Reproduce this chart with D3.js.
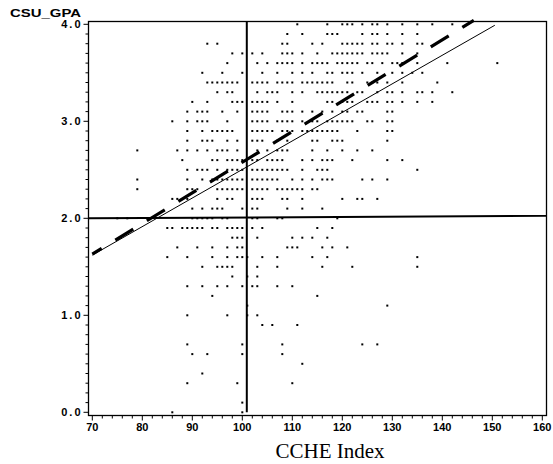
<!DOCTYPE html>
<html>
<head>
<meta charset="utf-8">
<script src="https://cdn.jsdelivr.net/npm/d3@7"></script>
<style>
  body { margin: 0; background: #fff; }
  svg { display: block; }
  .tick-label { font-family: "Liberation Sans", Arial, sans-serif; font-weight: bold; font-size: 11px; }
</style>
</head>
<body>
<svg id="chart" width="553" height="464"></svg>
<script>

// GPA levels (one row of dots per level) and the CCHE index values found on each row
const gpaLevels = [4.0, 3.9, 3.8, 3.7, 3.6, 3.5, 3.4, 3.3, 3.2, 3.1, 3.0, 2.9, 2.8, 2.7, 2.6, 2.5, 2.4, 2.3, 2.2, 2.1,
                   2.0, 1.9, 1.8, 1.7, 1.6, 1.5, 1.4, 1.3, 1.2, 1.1, 1.0, 0.9, 0.7, 0.6, 0.5, 0.4, 0.3, 0.1, 0.0];
const ccheByLevel = [
    [111, 117, 120, 121, 122, 124, 126, 127, 129, 132, 135, 138, 142],
    [109, 112, 117, 118, 119, 124, 126, 127, 129, 132, 135],
    [93, 95, 108, 109, 114, 116, 120, 121, 122, 123, 124, 126, 127, 129, 130, 132, 135, 136],
    [98, 100, 102, 104, 108, 109, 110, 112, 115, 118, 119, 120, 121, 122, 123, 124, 126, 127, 128, 129, 132, 135],
    [97, 103, 105, 107, 108, 109, 110, 112, 114, 115, 116, 117, 119, 120, 121, 122, 123, 125, 126, 128, 130, 131, 132, 135, 141, 151],
    [92, 96, 100, 104, 107, 110, 112, 114, 117, 118, 120, 121, 122, 124, 127, 130, 132, 134, 136],
    [93, 94, 95, 96, 97, 98, 99, 102, 103, 104, 105, 107, 108, 109, 110, 112, 113, 114, 115, 116, 117, 118, 121, 122, 125, 126, 127, 129, 132, 139],
    [95, 97, 98, 103, 105, 106, 107, 110, 112, 115, 116, 117, 118, 119, 120, 121, 123, 124, 127, 129, 130, 132, 135, 136, 138, 142],
    [90, 93, 98, 99, 100, 102, 103, 104, 105, 107, 110, 117, 118, 120, 121, 122, 125, 126, 127, 129, 130, 132, 135, 138],
    [89, 91, 92, 93, 96, 99, 102, 103, 104, 105, 108, 109, 110, 112, 114, 116, 118, 120, 121, 123, 124, 129, 130],
    [86, 89, 91, 92, 93, 97, 102, 103, 104, 105, 107, 108, 109, 110, 112, 114, 115, 117, 118, 119, 120, 121, 122, 125, 126, 129, 130],
    [89, 92, 94, 95, 96, 97, 98, 102, 103, 104, 105, 106, 108, 109, 110, 112, 113, 114, 115, 116, 117, 118, 119, 123, 129, 130],
    [89, 92, 93, 94, 97, 99, 102, 103, 104, 107, 109, 114, 115, 118, 119, 120, 129],
    [79, 87, 89, 91, 93, 95, 96, 97, 99, 103, 105, 107, 108, 109, 114, 117, 120, 123, 126],
    [88, 94, 95, 97, 98, 99, 100, 102, 103, 105, 106, 107, 108, 112, 114, 116, 117, 118, 122, 129, 132],
    [89, 91, 92, 93, 95, 97, 98, 99, 100, 102, 103, 104, 105, 106, 107, 108, 109, 112, 115, 116, 117, 135],
    [79, 89, 92, 94, 95, 96, 97, 98, 99, 100, 102, 103, 104, 105, 106, 107, 110, 112, 114, 116, 117, 118, 124, 126, 129],
    [79, 89, 90, 91, 95, 96, 97, 98, 99, 100, 102, 103, 104, 105, 107, 108, 109, 110, 111, 112, 114, 115],
    [86, 87, 89, 95, 97, 98, 102, 103, 104, 108, 109, 112, 120, 123, 124, 127],
    [90, 92, 94, 95, 96, 100, 102, 103, 109, 112, 116],
    [75, 77, 90, 91, 92, 93, 94, 96, 97, 102, 103, 107, 108, 119],
    [85, 86, 88, 89, 90, 91, 92, 94, 95, 97, 98, 99, 100, 102, 104, 115, 118],
    [98, 99, 100, 103, 110, 112, 114, 117],
    [87, 91, 94, 97, 99, 100, 109, 110, 111, 116, 118, 121],
    [85, 89, 94, 97, 99, 100, 101, 104, 107, 114, 117, 135],
    [92, 95, 96, 97, 98, 103, 107, 116, 122, 135],
    [98, 101, 103],
    [89, 92, 95, 97, 100, 102, 103, 107, 110],
    [94, 115],
    [101, 129],
    [89, 97, 101, 103],
    [104, 106, 111],
    [89, 100, 108, 124, 127],
    [90, 93, 100, 108],
    [112],
    [92],
    [89, 99, 110],
    [100],
    [86, 100]
];

// axis ticks
const xTicks = [70, 80, 90, 100, 110, 120, 130, 140, 150, 160];
const yTicks = [0, 1, 2, 3, 4];

// reference lines: mean CCHE (vertical), GPA 2.0 (horizontal)
const meanCche = 100.9;
const refGpa = [2.0, 2.025];   // left end, right end
// fitted lines: [x0, y0, x1, y1]
const fitSolid = [70, 1.62, 150.5, 3.99];
const fitDashed = [70, 1.63, 146.3, 4.04];

const svg = d3.select("#chart");

const x = d3.scaleLinear().domain([70, 160]).range([92.3, 542.3]);
const y = d3.scaleLinear().domain([0, 4]).range([412.3, 24.3]);

// frame box
const frameL = 88.5, frameR = 546.5, frameT = 21.5, frameB = 415.5;
svg.append("rect")
    .attr("x", frameL)
    .attr("y", frameT)
    .attr("width", frameR - frameL)
    .attr("height", frameB - frameT)
    .attr("fill", "none")
    .attr("stroke", "#000")
    .attr("stroke-width", 1.3);

// y axis ticks (minor every 0.1)
const yMinor = d3.range(0, 40.5, 1).map(d => d / 10);
svg.append("g").selectAll("line")
    .data(yMinor)
    .enter()
    .append("line")
    .attr("x1", d => Number.isInteger(d) ? frameL - 5 : frameL - 3)
    .attr("x2", frameL)
    .attr("y1", d => y(d))
    .attr("y2", d => y(d))
    .attr("stroke", "#000")
    .attr("stroke-width", 1);

svg.append("g").selectAll("text")
    .data(yTicks)
    .enter()
    .append("text")
    .attr("class", "tick-label")
    .attr("x", frameL - 6)
    .attr("y", d => y(d) + 4)
    .attr("text-anchor", "end")
    .attr("letter-spacing", "2px")
    .text(d => d.toFixed(1));

// x axis ticks (minor every 2)
const xMinor = d3.range(70, 161, 2);
svg.append("g").selectAll("line")
    .data(xMinor)
    .enter()
    .append("line")
    .attr("x1", d => x(d))
    .attr("x2", d => x(d))
    .attr("y1", frameB)
    .attr("y2", d => d % 10 === 0 ? frameB + 5 : frameB + 3)
    .attr("stroke", "#000")
    .attr("stroke-width", 1);

svg.append("g").selectAll("text")
    .data(xTicks)
    .enter()
    .append("text")
    .attr("class", "tick-label")
    .attr("x", d => x(d))
    .attr("y", frameB + 15)
    .attr("text-anchor", "middle")
    .text(d => d);

// axis titles
svg.append("text")
    .attr("x", 10)
    .attr("y", 17)
    .attr("font-family", "Liberation Sans, Arial, sans-serif")
    .attr("font-weight", "bold")
    .attr("font-size", "10px")
    .attr("textLength", 71)
    .attr("lengthAdjust", "spacingAndGlyphs")
    .text("CSU_GPA");

svg.append("text")
    .attr("x", 330)
    .attr("y", 458)
    .attr("text-anchor", "middle")
    .attr("font-family", "Liberation Serif, Times New Roman, serif")
    .attr("font-size", "21px")
    .text("CCHE Index");

// scatter points
const points = [];
gpaLevels.forEach((g, i) => {
    ccheByLevel[i].forEach(c => points.push({ cche: c, gpa: g }));
});

svg.append("g").selectAll("rect")
    .data(points)
    .enter()
    .append("rect")
    .attr("x", d => x(d.cche) - 1)
    .attr("y", d => y(d.gpa) - 1)
    .attr("width", 2)
    .attr("height", 2)
    .attr("fill", "#000");

// reference lines
svg.append("line")
    .attr("x1", x(meanCche))
    .attr("x2", x(meanCche))
    .attr("y1", y(0))
    .attr("y2", frameT)
    .attr("stroke", "#000")
    .attr("stroke-width", 2);

svg.append("line")
    .attr("x1", frameL)
    .attr("x2", frameR)
    .attr("y1", y(refGpa[0]))
    .attr("y2", y(refGpa[1]))
    .attr("stroke", "#000")
    .attr("stroke-width", 2);

// fitted lines
svg.append("line")
    .attr("x1", x(fitSolid[0]))
    .attr("y1", y(fitSolid[1]))
    .attr("x2", x(fitSolid[2]))
    .attr("y2", y(fitSolid[3]))
    .attr("stroke", "#000")
    .attr("stroke-width", 1);

svg.append("line")
    .attr("x1", x(fitDashed[0]))
    .attr("y1", y(fitDashed[1]))
    .attr("x2", x(fitDashed[2]))
    .attr("y2", y(fitDashed[3]))
    .attr("stroke", "#000")
    .attr("stroke-width", 3.2)
    .attr("stroke-dasharray", "21,16")
    .attr("stroke-dashoffset", 10);

</script>
</body>
</html>
